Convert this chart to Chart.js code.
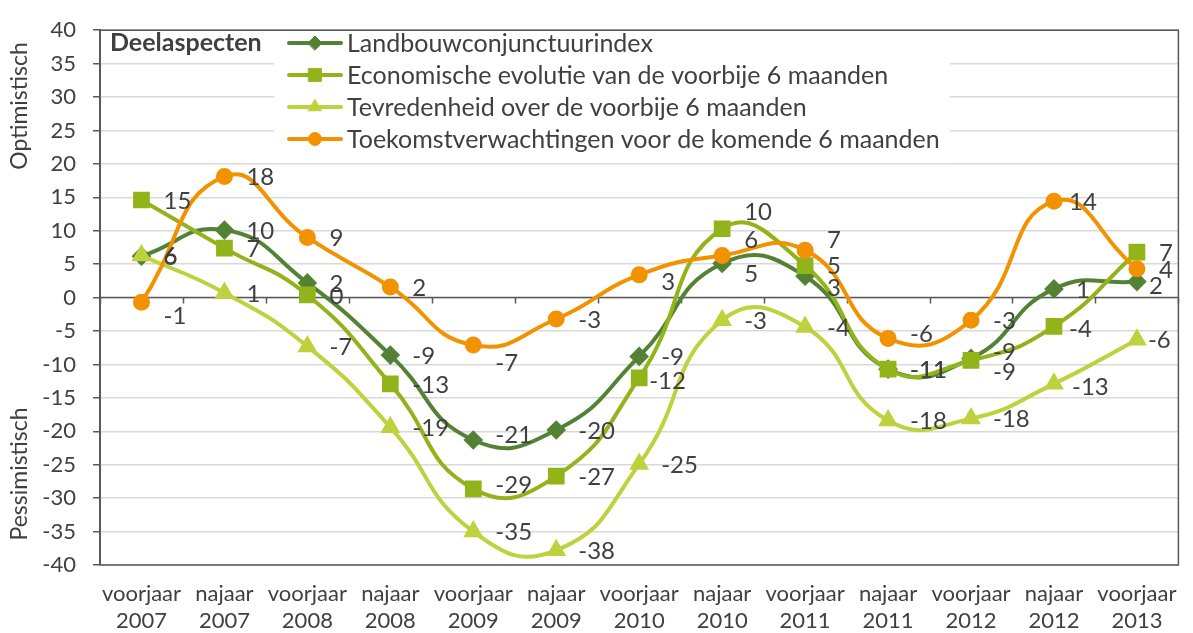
<!DOCTYPE html>
<html>
<head>
<meta charset="utf-8">
<script src="https://cdn.jsdelivr.net/npm/chart.js@4"></script>
<style>
  html, body { margin: 0; padding: 0; background: #ffffff; }
  #wrap { width: 1193px; height: 633px; }
</style>
</head>
<body>
<div id="wrap"><canvas id="c" width="1193" height="633"></canvas></div>
<script>
// ---- data ----
const categories = [
  ['voorjaar', '2007'], ['najaar', '2007'], ['voorjaar', '2008'], ['najaar', '2008'],
  ['voorjaar', '2009'], ['najaar', '2009'], ['voorjaar', '2010'], ['najaar', '2010'],
  ['voorjaar', '2011'], ['najaar', '2011'], ['voorjaar', '2012'], ['najaar', '2012'],
  ['voorjaar', '2013']
];
const seriesNames = [
  'Landbouwconjunctuurindex',
  'Economische evolutie van de voorbije 6 maanden',
  'Tevredenheid over de voorbije 6 maanden',
  'Toekomstverwachtingen voor de komende 6 maanden'
];
const landbouw     = [6.2, 10.1, 2.2, -8.6, -21.3, -19.8, -8.8, 5.1, 3.2, -10.7, -9.1, 1.3, 2.4];
const economisch   = [14.6, 7.4, 0.4, -12.9, -28.6, -26.7, -12.0, 10.3, 4.8, -10.7, -9.4, -4.3, 6.8];
const tevredenheid = [6.3, 0.7, -7.3, -19.4, -35.0, -37.8, -24.9, -3.4, -4.4, -18.4, -18.1, -12.9, -6.3];
const toekomst     = [-0.7, 18.1, 9.0, 1.6, -7.1, -3.2, 3.4, 6.3, 7.1, -6.1, -3.4, 14.4, 4.3];
const yMin = -40, yMax = 40, yStep = 5;
const legendTitle = 'Deelaspecten';
const axisTitleTop = 'Optimistisch';
const axisTitleBottom = 'Pessimistisch';

// ---- styling ----
const FONT = 'Lato, "Open Sans", sans-serif';
const FS = 22;        // axis tick labels
const FS_LABEL = 24;  // data labels
const FS_LEGEND = 25; // legend
const FS_TITLE = 23;  // axis titles
const TEXT = '#404040';
const AXIS = '#595959';
const colors = ['#548235', '#92b41a', '#bfd13d', '#f39200'];
const styles = ['rectRot', 'rect', 'triangle', 'circle'];
const radii = [7, 9, 7.5, 6.5];

// label nudges: "seriesIndex:pointIndex" -> [dx, dy]
const labelNudge = {
  '3:0': [0, 13], '3:4': [0, 17], '3:6': [0, 6], '3:7': [0, -16], '3:8': [0, -11],
  '3:9': [0, -5], '3:11': [-7, 0],
  '0:4': [0, -6], '1:4': [0, -5], '0:7': [0, 10], '1:7': [0, -17], '0:8': [0, 11],
  '1:6': [-12, 2], '0:10': [0, -7], '1:10': [0, 11], '1:11': [-7, 2],
  '0:12': [-10, 4], '2:12': [-11, 0], '2:11': [-4, 2]
};

const datasets = [landbouw, economisch, tevredenheid, toekomst].map((d, i) => ({
  label: seriesNames[i],
  data: d,
  borderColor: colors[i],
  backgroundColor: colors[i],
  pointBackgroundColor: colors[i],
  pointBorderColor: colors[i],
  pointStyle: styles[i],
  pointRadius: radii[i],
  pointHoverRadius: radii[i],
  borderWidth: 4,
  tension: 0.5,
  fill: false,
  order: 4 - i
}));

const decorPlugin = {
  id: 'decor',
  beforeDatasetsDraw(chart) {
    const ctx = chart.ctx, a = chart.chartArea;
    const xs = chart.scales.x, ys = chart.scales.y;
    ctx.save();
    // legend background
    ctx.fillStyle = '#ffffff';
    ctx.fillRect(274, a.top + 1, 676, 132);
    // plot frame
    ctx.strokeStyle = AXIS;
    ctx.lineWidth = 1.5;
    ctx.beginPath();
    ctx.moveTo(a.left, a.top); ctx.lineTo(a.right, a.top);
    ctx.lineTo(a.right, a.bottom); ctx.lineTo(a.left, a.bottom);
    ctx.stroke();
    // category axis at zero
    const y0 = ys.getPixelForValue(0);
    ctx.beginPath();
    ctx.moveTo(a.left, y0); ctx.lineTo(a.right, y0);
    const step = xs.getPixelForTick(1) - xs.getPixelForTick(0);
    for (let i = 0; i <= categories.length; i++) {
      const x = Math.round(xs.getPixelForTick(0) - step / 2 + i * step) + 0.5;
      ctx.moveTo(x, y0); ctx.lineTo(x, y0 + 6);
    }
    ctx.stroke();
    ctx.restore();
  },
  afterDatasetsDraw(chart) {
    const ctx = chart.ctx;
    ctx.save();
    // data labels
    ctx.font = FS_LABEL + 'px ' + FONT;
    ctx.fillStyle = TEXT;
    ctx.textAlign = 'left';
    ctx.textBaseline = 'middle';
    chart.data.datasets.forEach((ds, si) => {
      const meta = chart.getDatasetMeta(si);
      meta.data.forEach((pt, pi) => {
        const n = labelNudge[si + ':' + pi] || [0, 0];
        ctx.fillText(String(Math.round(ds.data[pi])), pt.x + 22 + n[0], pt.y + 1 + n[1]);
      });
    });
    // legend
    ctx.font = 'bold ' + FS_LEGEND + 'px ' + FONT;
    ctx.fillText(legendTitle, 110, 43);
    ctx.font = FS_LEGEND + 'px ' + FONT;
    const rows = [43, 75, 107, 139];
    chart.data.datasets.forEach((ds, si) => {
      const y = rows[si];
      ctx.strokeStyle = colors[si];
      ctx.lineWidth = 4;
      ctx.lineCap = 'round';
      ctx.beginPath(); ctx.moveTo(289, y); ctx.lineTo(341, y); ctx.stroke();
      ctx.fillStyle = colors[si];
      ctx.strokeStyle = colors[si];
      ctx.lineWidth = 1;
      Chart.helpers.drawPoint(ctx, { pointStyle: styles[si], radius: radii[si], rotation: 0, borderWidth: 1 }, 315, y);
      ctx.fillStyle = TEXT;
      ctx.fillText(ds.label, 347, y + 1);
    });
    // axis titles
    ctx.font = FS_TITLE + 'px ' + FONT;
    ctx.textAlign = 'center';
    ctx.fillStyle = TEXT;
    ctx.save();
    ctx.translate(20, 106); ctx.rotate(-Math.PI / 2);
    ctx.fillText(axisTitleTop, 0, 0);
    ctx.restore();
    ctx.save();
    ctx.translate(20, 474); ctx.rotate(-Math.PI / 2);
    ctx.fillText(axisTitleBottom, 0, 0);
    ctx.restore();
    ctx.restore();
  }
};

new Chart(document.getElementById('c'), {
  type: 'line',
  data: { labels: categories, datasets },
  options: {
    responsive: false,
    animation: false,
    events: [],
    layout: { padding: { left: 0, right: 1, top: 20, bottom: 0 } },
    plugins: { legend: { display: false }, tooltip: { enabled: false }, title: { display: false } },
    scales: {
      x: {
        offset: true,
        grid: { display: false, drawTicks: false },
        border: { display: false },
        ticks: { font: { family: FONT, size: FS, lineHeight: 1.2 }, color: TEXT, padding: 16, maxRotation: 0, autoSkip: false },
        afterFit(scale) { scale.height = 68; }
      },
      y: {
        min: yMin, max: yMax,
        grid: { color: '#d9d9d9', lineWidth: 1.5, tickColor: AXIS, tickLength: 7 },
        border: { color: AXIS, width: 2 },
        ticks: { stepSize: yStep, font: { family: FONT, size: FS }, color: TEXT, padding: 17 },
        afterFit(scale) { scale.width = 100; }
      }
    }
  },
  plugins: [decorPlugin]
});
</script>
</body>
</html>
